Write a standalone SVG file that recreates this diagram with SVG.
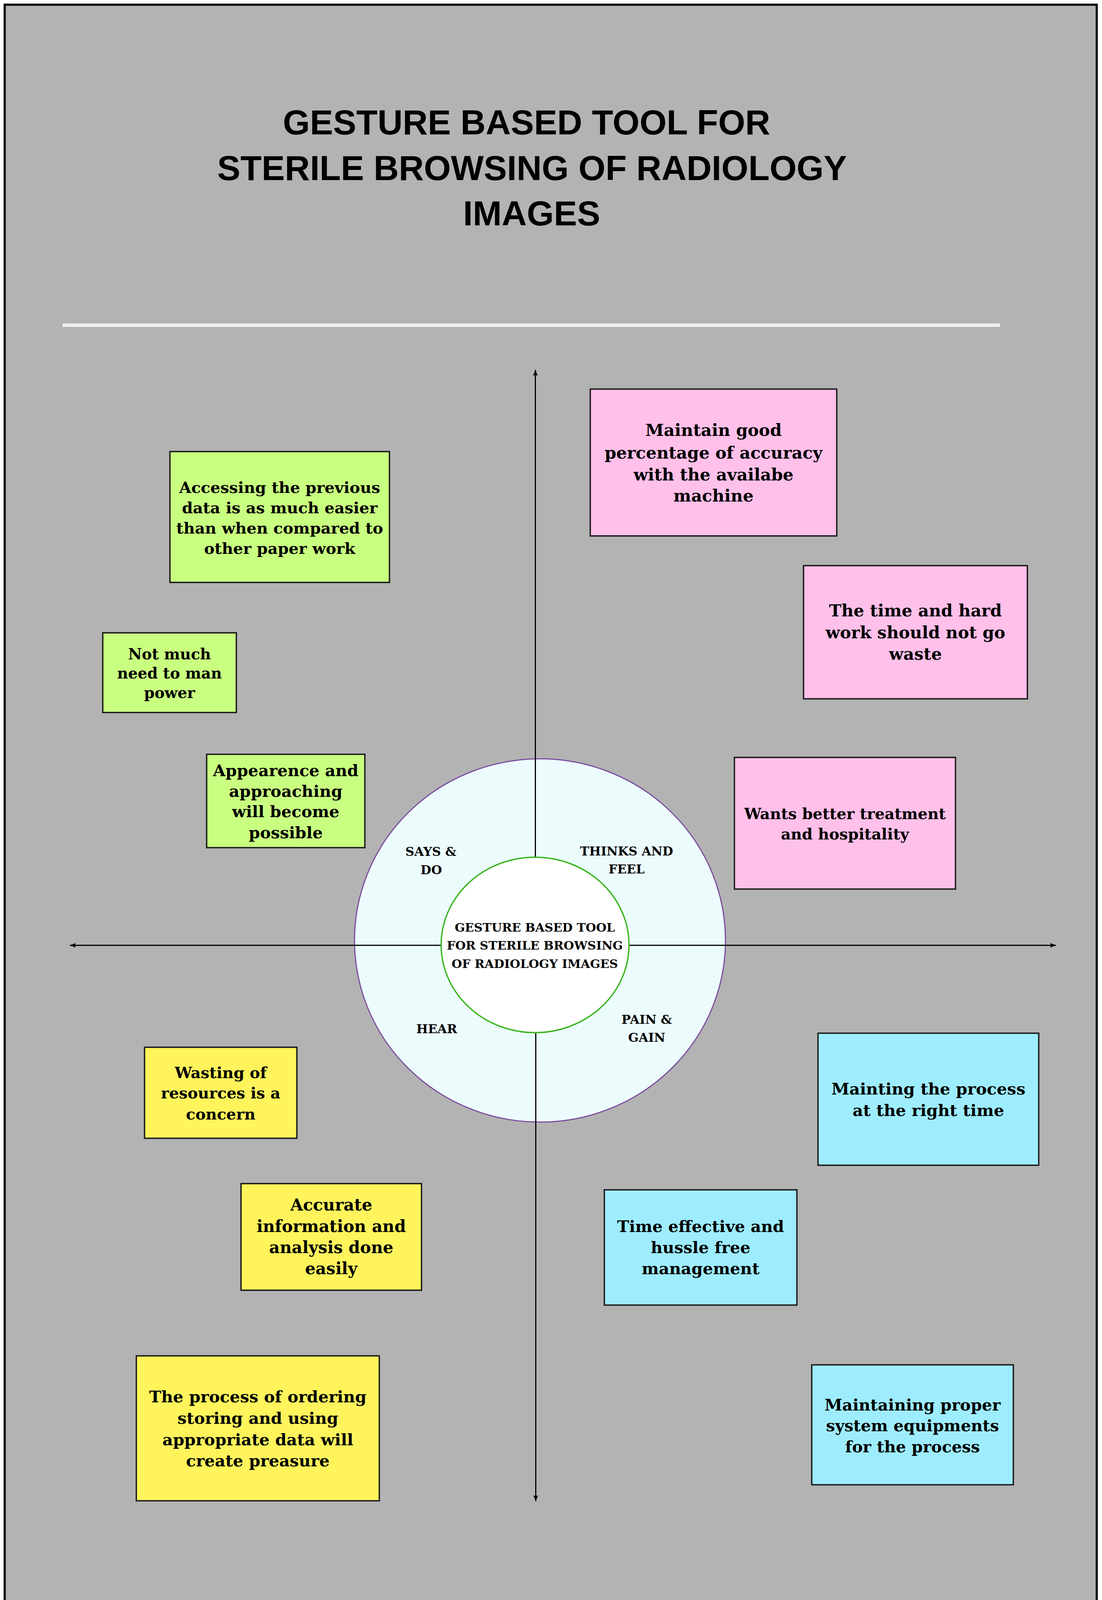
<svg xmlns="http://www.w3.org/2000/svg" width="2821" height="4817" viewBox="0 0 2821 4817">
<style>
.title{font-family:"Liberation Sans",Arial,sans-serif;font-weight:bold;font-size:89px;fill:#000;text-anchor:middle}
.box{stroke:#1a1a1a;stroke-width:3.5}
.pink{fill:#ffc0e9}
.green{fill:#c9ff80}
.yellow{fill:#fff45c}
.cyan{fill:#9eedff}
.bt{font-family:"DejaVu Serif","Liberation Serif",serif;font-weight:bold;fill:#000;text-anchor:middle}
.lbl{font-family:"DejaVu Serif","Liberation Serif",serif;font-weight:bold;font-size:31.5px;fill:#000;text-anchor:middle}
.ctr{font-family:"DejaVu Serif","Liberation Serif",serif;font-weight:bold;font-size:30.6px;fill:#000;text-anchor:middle}
.axis{stroke:#000;stroke-width:3;fill:none}
</style>
<defs>
<marker id="arr" markerUnits="userSpaceOnUse" markerWidth="18" markerHeight="14" viewBox="0 -7 16 14" refX="15" refY="0" orient="auto">
<path d="M0,-6 L15,0 L0,6 L2.5,0 Z" fill="#000"/>
</marker>
</defs>
<rect x="0" y="0" width="2821" height="4817" fill="#ffffff"/>
<rect x="12" y="12" width="2795.5" height="4792.5" fill="#b3b3b3" stroke="#000" stroke-width="5.5"/>

<g id="title">
<text class="title" x="1348" y="344">GESTURE BASED TOOL FOR</text>
<text class="title" x="1362" y="461">STERILE BROWSING OF RADIOLOGY</text>
<text class="title" x="1361" y="577">IMAGES</text>
</g>
<rect id="divider" x="160" y="828" width="2400" height="9" fill="#eeeeee"/>

<g id="outer-ring">
<ellipse cx="1382.3" cy="2407.6" rx="474.8" ry="465" fill="#ecfcfd" stroke="#7d4ea0" stroke-width="3"/>
</g>

<g id="connectors">
<line class="axis" x1="1370.5" y1="2300" x2="1370.5" y2="947" marker-end="url(#arr)"/>
<line class="axis" x1="1371.5" y1="2540" x2="1371.5" y2="3843" marker-end="url(#arr)"/>
<line class="axis" x1="1250" y1="2420" x2="179" y2="2420" marker-end="url(#arr)"/>
<line class="axis" x1="1490" y1="2420" x2="2703" y2="2420" marker-end="url(#arr)"/>
</g>

<g id="center">
<ellipse cx="1369.7" cy="2419" rx="240.4" ry="224.5" fill="#ffffff" stroke="#3cb521" stroke-width="3.5"/>
<text class="ctr" x="1369" y="2385">GESTURE BASED TOOL</text>
<text class="ctr" x="1369" y="2431">FOR STERILE BROWSING</text>
<text class="ctr" x="1369" y="2478">OF RADIOLOGY IMAGES</text>
</g>

<g id="label-says-do">
<text class="lbl" x="1103" y="2191">SAYS &amp;</text>
<text class="lbl" x="1104" y="2238">DO</text>
</g>
<g id="label-thinks-feel">
<text class="lbl" x="1604" y="2190">THINKS AND</text>
<text class="lbl" x="1604" y="2236">FEEL</text>
</g>
<g id="label-hear">
<text class="lbl" x="1118" y="2645">HEAR</text>
</g>
<g id="label-pain-gain">
<text class="lbl" x="1655.5" y="2621">PAIN &amp;</text>
<text class="lbl" x="1655.5" y="2667">GAIN</text>
</g>

<g id="says-1">
<rect class="box green" x="435" y="1156" width="562" height="335"/>
<text class="bt" font-size="40" x="716" y="1262">Accessing the previous</text>
<text class="bt" font-size="40" x="716" y="1314">data is as much easier</text>
<text class="bt" font-size="40" x="716" y="1366">than when compared to</text>
<text class="bt" font-size="40" x="716" y="1418">other paper work</text>
</g>
<g id="says-2">
<rect class="box green" x="263" y="1620" width="342" height="204"/>
<text class="bt" font-size="38.5" x="434" y="1688">Not much</text>
<text class="bt" font-size="38.5" x="434" y="1737">need to man</text>
<text class="bt" font-size="38.5" x="434" y="1787">power</text>
</g>
<g id="says-3">
<rect class="box green" x="529" y="1931" width="405" height="239"/>
<text class="bt" font-size="41.3" x="731.5" y="1987">Appearence and</text>
<text class="bt" font-size="41.3" x="731.5" y="2040">approaching</text>
<text class="bt" font-size="41.3" x="731.5" y="2092">will become</text>
<text class="bt" font-size="41.3" x="731.5" y="2146">possible</text>
</g>

<g id="thinks-1">
<rect class="box pink" x="1511" y="996" width="631" height="376"/>
<text class="bt" font-size="42.8" x="1826.5" y="1116">Maintain good</text>
<text class="bt" font-size="42.8" x="1826.5" y="1174">percentage of accuracy</text>
<text class="bt" font-size="42.8" x="1826.5" y="1230">with the availabe</text>
<text class="bt" font-size="42.8" x="1826.5" y="1284">machine</text>
</g>
<g id="thinks-2">
<rect class="box pink" x="2057" y="1448" width="573" height="341"/>
<text class="bt" font-size="42.7" x="2343.5" y="1578">The time and hard</text>
<text class="bt" font-size="42.7" x="2343.5" y="1634">work should not go</text>
<text class="bt" font-size="42.7" x="2343.5" y="1689">waste</text>
</g>
<g id="thinks-3">
<rect class="box pink" x="1880" y="1939" width="566" height="337"/>
<text class="bt" font-size="39.2" x="2163" y="2097">Wants better treatment</text>
<text class="bt" font-size="39.2" x="2163" y="2149">and hospitality</text>
</g>

<g id="hear-1">
<rect class="box yellow" x="370" y="2681" width="390" height="233"/>
<text class="bt" font-size="39.5" x="565" y="2760">Wasting of</text>
<text class="bt" font-size="39.5" x="565" y="2812">resources is a</text>
<text class="bt" font-size="39.5" x="565" y="2866">concern</text>
</g>
<g id="hear-2">
<rect class="box yellow" x="617" y="3030" width="462" height="273"/>
<text class="bt" font-size="42" x="848" y="3099">Accurate</text>
<text class="bt" font-size="42" x="848" y="3154">information and</text>
<text class="bt" font-size="42" x="848" y="3208">analysis done</text>
<text class="bt" font-size="42" x="848" y="3262">easily</text>
</g>
<g id="hear-3">
<rect class="box yellow" x="349" y="3471" width="622" height="371"/>
<text class="bt" font-size="41.6" x="660" y="3590">The process of ordering</text>
<text class="bt" font-size="41.6" x="660" y="3645">storing and using</text>
<text class="bt" font-size="41.6" x="660" y="3700">appropriate data will</text>
<text class="bt" font-size="41.6" x="660" y="3754">create preasure</text>
</g>

<g id="pain-1">
<rect class="box cyan" x="2094" y="2645" width="565" height="338"/>
<text class="bt" font-size="41.7" x="2376.5" y="2802">Mainting the process</text>
<text class="bt" font-size="41.7" x="2376.5" y="2857">at the right time</text>
</g>
<g id="pain-2">
<rect class="box cyan" x="1547" y="3046" width="493" height="295"/>
<text class="bt" font-size="41.3" x="1793.5" y="3154">Time effective and</text>
<text class="bt" font-size="41.3" x="1793.5" y="3208">hussle free</text>
<text class="bt" font-size="41.3" x="1793.5" y="3262">management</text>
</g>
<g id="pain-3">
<rect class="box cyan" x="2078" y="3494" width="516" height="307"/>
<text class="bt" font-size="41" x="2336" y="3611">Maintaining proper</text>
<text class="bt" font-size="41" x="2336" y="3664">system equipments</text>
<text class="bt" font-size="41" x="2336" y="3718">for the process</text>
</g>
</svg>
